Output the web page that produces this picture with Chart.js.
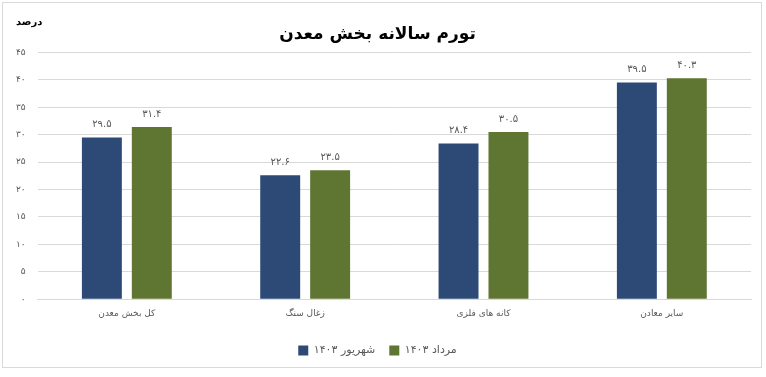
<!DOCTYPE html>
<html>
<head>
<meta charset="utf-8">
<script src="https://cdn.jsdelivr.net/npm/chart.js@4"></script>
<style>
    body { margin: 0; background: #fff; }
    #frame { position: absolute; left: 2px; top: 2px; width: 758px; height: 364px; border: 1px solid #d9d9d9; }
    #wrap { position: absolute; left: 0; top: 0; width: 766px; height: 377px; }
</style>
</head>
<body>
<div id="frame"></div>
<div id="wrap"><canvas id="chart"></canvas></div>
<script>
const categories = ['کل بخش معدن', 'زغال سنگ', 'کانه های فلزی', 'سایر معادن'];
const shahrivar = [29.5, 22.6, 28.4, 39.5];
const mordad = [31.4, 23.5, 30.5, 40.3];
const seriesNames = ['شهریور ۱۴۰۳', 'مرداد ۱۴۰۳'];
const yTicks = [0, 5, 10, 15, 20, 25, 30, 35, 40, 45];

const FONT = "'DejaVu Sans', sans-serif";

function fa(v) {
    return String(v).replace(/\d/g, d => '۰۱۲۳۴۵۶۷۸۹'[d]);
}

// numbers above each bar
const barLabels = {
    id: 'barLabels',
    afterDatasetsDraw(chart) {
        const ctx = chart.ctx;
        ctx.save();
        ctx.font = '10px ' + FONT;
        ctx.fillStyle = '#595959';
        ctx.textAlign = 'center';
        ctx.textBaseline = 'bottom';
        chart.data.datasets.forEach((ds, i) => {
            chart.getDatasetMeta(i).data.forEach((bar, j) => {
                ctx.fillText(fa(ds.data[j]), bar.x, bar.y - 8);
            });
        });
        ctx.restore();
    }
};

// unit label over the y axis
const unitLabel = {
    id: 'unitLabel',
    afterDraw(chart) {
        const ctx = chart.ctx;
        ctx.save();
        ctx.font = 'bold 10px ' + FONT;
        ctx.fillStyle = '#000';
        ctx.textAlign = 'left';
        ctx.textBaseline = 'middle';
        ctx.fillText('درصد', 16, 22);
        ctx.restore();
    }
};

new Chart(document.getElementById('chart'), {
    type: 'bar',
    data: {
        labels: categories,
        datasets: [
            { label: seriesNames[0], data: shahrivar, backgroundColor: '#2d4a76' },
            { label: seriesNames[1], data: mordad, backgroundColor: '#5f7532' },
        ],
    },
    options: {
        responsive: true,
        maintainAspectRatio: false,
        animation: false,
        datasets: {
            bar: { categoryPercentage: 0.56, barPercentage: 0.8 },
        },
        layout: { padding: { top: 24, left: 4, right: 15, bottom: 11 } },
        plugins: {
            title: {
                display: true,
                text: 'تورم سالانه بخش معدن',
                color: '#000',
                font: { family: FONT, size: 17, weight: 'bold' },
                padding: { top: 0, bottom: 8 },
            },
            legend: {
                position: 'bottom',
                labels: {
                    boxWidth: 10,
                    boxHeight: 10,
                    color: '#595959',
                    font: { family: FONT, size: 11 },
                    padding: 14,
                },
            },
            tooltip: { enabled: false },
        },
        scales: {
            x: {
                grid: { display: false },
                border: { display: true, color: '#d9d9d9' },
                ticks: {
                    color: '#595959',
                    font: { family: FONT, size: 9 },
                    padding: 1,
                },
                afterFit(axis) {
                    axis.height += 11;
                },
            },
            y: {
                min: 0,
                max: 45,
                afterBuildTicks(axis) {
                    axis.ticks = yTicks.map(v => ({ value: v }));
                },
                grid: { color: '#d9d9d9', drawTicks: false },
                border: { display: false },
                ticks: {
                    color: '#595959',
                    font: { family: FONT, size: 9 },
                    padding: 12,
                    callback: v => fa(v),
                },
            },
        },
    },
    plugins: [barLabels, unitLabel],
});
</script>
</body>
</html>
